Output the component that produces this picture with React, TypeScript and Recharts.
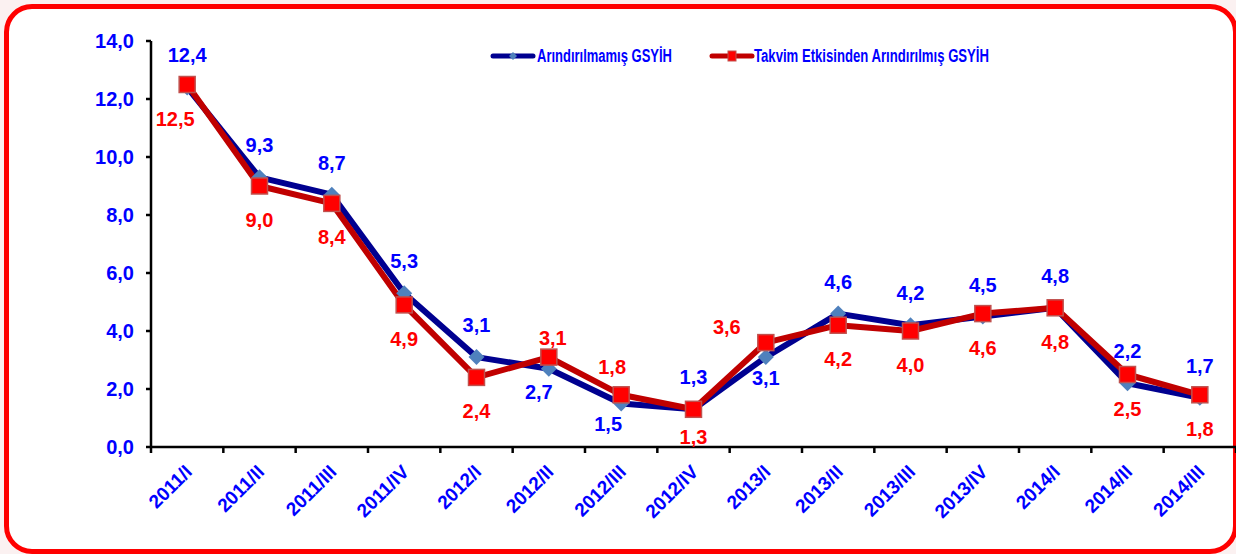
import { LineChart, Line, XAxis, YAxis, Legend, LabelList } from "recharts";

const periods = [
  "2011/I", "2011/II", "2011/III", "2011/IV",
  "2012/I", "2012/II", "2012/III", "2012/IV",
  "2013/I", "2013/II", "2013/III", "2013/IV",
  "2014/I", "2014/II", "2014/III",
];
const unadjusted = [12.4, 9.3, 8.7, 5.3, 3.1, 2.7, 1.5, 1.3, 3.1, 4.6, 4.2, 4.5, 4.8, 2.2, 1.7];
const calendarAdjusted = [12.5, 9.0, 8.4, 4.9, 2.4, 3.1, 1.8, 1.3, 3.6, 4.2, 4.0, 4.6, 4.8, 2.5, 1.8];
const yTicks = [0, 2, 4, 6, 8, 10, 12, 14];

const data = periods.map((period, i) => ({
  period,
  pos: i + 0.5,
  a: unadjusted[i],
  b: calendarAdjusted[i],
}));

// tick marks on quarter boundaries, labels at quarter centres
const xTicks = [...periods.flatMap((_, i) => [i, i + 0.5]), periods.length];

const FONT = '"Liberation Sans", Arial, sans-serif';
const BLUE_TEXT = "#0000FF";
const RED_TEXT = "#FF0000";

const fmt = (v: number) => v.toFixed(1).replace(".", ",");

// label nudges where the two series cross
const blueNudge: Record<number, [number, number]> = { 5: [-10, 23], 6: [-13, 20], 8: [0, 21] };
const redNudge: Record<number, [number, number]> = {
  0: [-12, 34], 5: [4, -19], 6: [-9, -28], 7: [0, 28], 8: [-39, -16],
};

const makeLabel = (nudge: Record<number, [number, number]>, def: [number, number], color: string) =>
  (props: any) => {
    const { x, y, value, index } = props;
    const [dx, dy] = nudge[index] ?? def;
    return (
      <text
        x={x + dx}
        y={y + dy}
        textAnchor="middle"
        dominantBaseline="central"
        fill={color}
        fontFamily={FONT}
        fontWeight="bold"
        fontSize={20}
      >
        {fmt(value)}
      </text>
    );
  };

const Diamond = (props: any) => {
  const { cx, cy } = props;
  const r = 8;
  return (
    <path
      d={`M${cx},${cy - r} L${cx + r},${cy} L${cx},${cy + r} L${cx - r},${cy} Z`}
      fill="#4F81BD"
    />
  );
};

const Square = (props: any) => {
  const { cx, cy } = props;
  const s = 16;
  return (
    <rect x={cx - s / 2} y={cy - s / 2} width={s} height={s} fill="#FF0000" stroke="#C0504D" strokeWidth={1.5} />
  );
};

const XTick = (props: any) => {
  const { x, y, payload } = props;
  const v = payload.value as number;
  if (Number.isInteger(v)) {
    return <line x1={x} y1={y} x2={x} y2={y + 6} stroke="#000" strokeWidth={2.5} />;
  }
  const tx = x + 6;
  const ty = y + 26;
  return (
    <text
      x={tx}
      y={ty}
      transform={`rotate(-45, ${tx}, ${ty})`}
      textAnchor="end"
      fill={BLUE_TEXT}
      fontFamily={FONT}
      fontWeight="bold"
      fontSize={19}
    >
      {periods[Math.floor(v)]}
    </text>
  );
};

const renderLegend = () => (
  <svg width={520} height={30} style={{ overflow: "visible" }}>
    <line x1={13} y1={16} x2={53} y2={16} stroke="#000090" strokeWidth={5} strokeLinecap="round" />
    <path d="M33,12 L37,16 L33,20 L29,16 Z" fill="#4F81BD" />
    <text
      x={57}
      y={16}
      dominantBaseline="central"
      fill={BLUE_TEXT}
      fontFamily={FONT}
      fontWeight="bold"
      fontSize={18}
      textLength={135}
      lengthAdjust="spacingAndGlyphs"
    >
      Arındırılmamış GSYİH
    </text>
    <line x1={232} y1={16} x2={272} y2={16} stroke="#C00000" strokeWidth={5} strokeLinecap="round" />
    <rect x={248} y={11} width={8} height={10} fill="#FF0000" stroke="#C0504D" strokeWidth={1} />
    <text
      x={274}
      y={16}
      dominantBaseline="central"
      fill={BLUE_TEXT}
      fontFamily={FONT}
      fontWeight="bold"
      fontSize={18}
      textLength={235}
      lengthAdjust="spacingAndGlyphs"
    >
      Takvim Etkisinden Arındırılmış GSYİH
    </text>
  </svg>
);

export default function App() {
  return (
    <div style={{ position: "relative", width: 1236, height: 554, overflow: "hidden", background: "#fbf1f1" }}>
      <style>{"body{margin:0}"}</style>
      {/* rounded red frame */}
      <div
        style={{
          position: "absolute",
          left: 4,
          top: 4,
          width: 1234,
          height: 550,
          boxSizing: "border-box",
          border: "5px solid #FF0000",
          borderRadius: 28,
          background: "#fff",
        }}
      />
      <div style={{ position: "absolute", left: 0, top: 0 }}>
        <LineChart width={1236} height={554} data={data} margin={{ top: 41, right: 0, bottom: 0, left: 0 }}>
          <XAxis
            type="number"
            dataKey="pos"
            domain={[0, periods.length]}
            ticks={xTicks}
            interval={0}
            tick={<XTick />}
            tickLine={false}
            tickSize={0}
            tickMargin={0}
            axisLine={{ stroke: "#000", strokeWidth: 2.5 }}
            height={107}
          />
          <YAxis
            width={151}
            domain={[0, 14]}
            ticks={yTicks}
            interval={0}
            tickFormatter={fmt}
            tick={{ fill: BLUE_TEXT, fontFamily: FONT, fontWeight: "bold", fontSize: 20 }}
            tickSize={5}
            tickMargin={12}
            tickLine={{ stroke: "#000", strokeWidth: 2.5 }}
            axisLine={{ stroke: "#000", strokeWidth: 2.5 }}
          />
          <Legend
            layout="horizontal"
            verticalAlign="middle"
            align="center"
            wrapperStyle={{ top: 40, left: 480, width: 520, height: 30 }}
            content={renderLegend}
          />
          <Line
            type="linear"
            dataKey="a"
            name="Arındırılmamış GSYİH"
            stroke="#000090"
            strokeWidth={6}
            strokeLinejoin="round"
            dot={<Diamond />}
            activeDot={false}
            isAnimationActive={false}
          >
            <LabelList dataKey="a" content={makeLabel(blueNudge, [0, -32], BLUE_TEXT)} />
          </Line>
          <Line
            type="linear"
            dataKey="b"
            name="Takvim Etkisinden Arındırılmış GSYİH"
            stroke="#C00000"
            strokeWidth={6}
            strokeLinejoin="round"
            dot={<Square />}
            activeDot={false}
            isAnimationActive={false}
          >
            <LabelList dataKey="b" content={makeLabel(redNudge, [0, 34], RED_TEXT)} />
          </Line>
        </LineChart>
      </div>
    </div>
  );
}
